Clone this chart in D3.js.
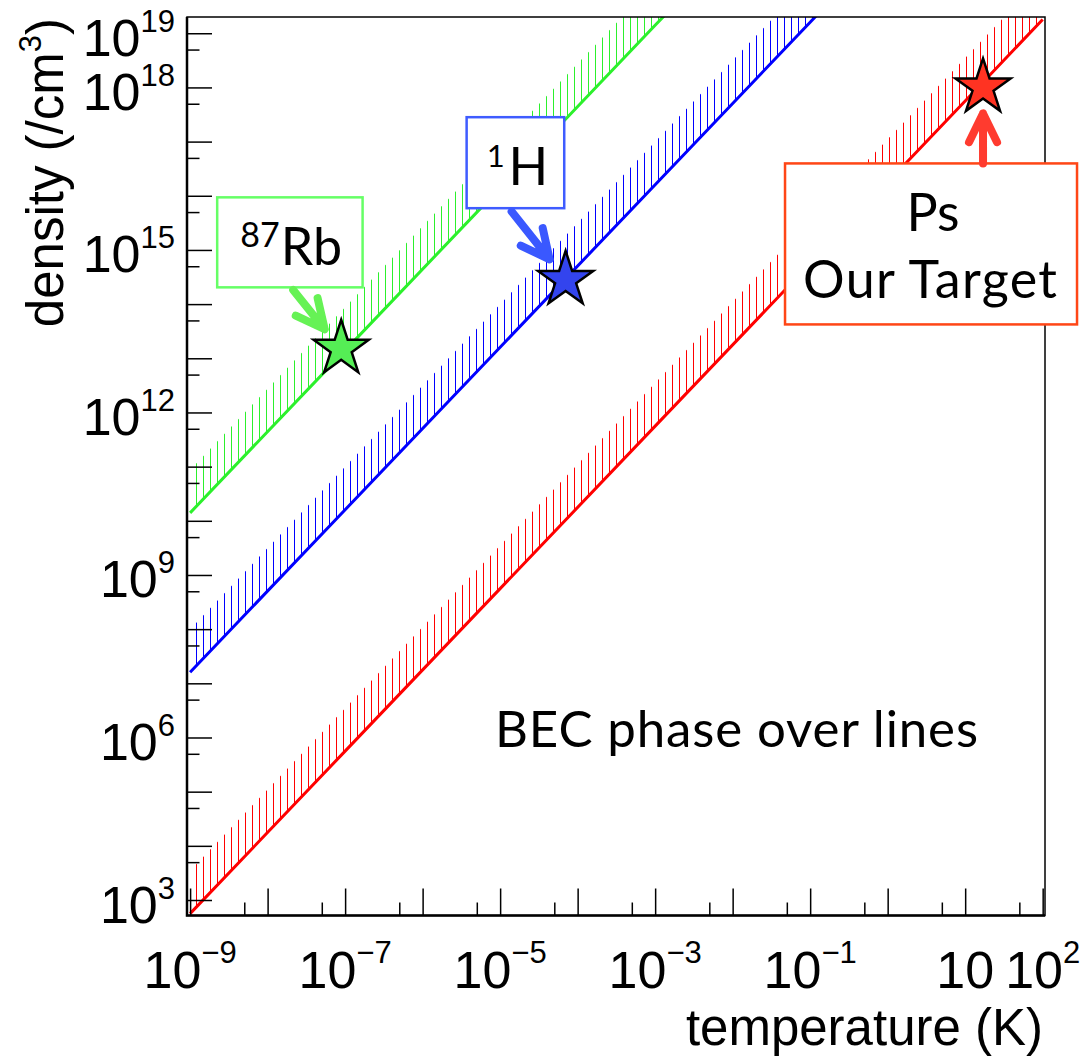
<!DOCTYPE html>
<html><head><meta charset="utf-8">
<script src="https://cdn.jsdelivr.net/npm/d3@7/dist/d3.min.js"></script>
<style>body{margin:0;background:#fff}</style>
</head><body>
<svg id="c" width="1087" height="1056"></svg>
<script>
// ---- data ----
const tempGrid = [1e-9, 1e-7, 1e-5, 1e-3, 1e-1, 1e1, 1e2];           // K
const densPs   = [5.6e2, 5.6e5, 5.6e8, 5.6e11, 5.6e14, 5.6e17, 1.8e19]; // /cm^3
const densH    = [1.6e7, 1.6e10, 1.6e13, 1.6e16, 1.6e19, 1.6e22, 5.1e23];
const densRb   = [1.4e10, 1.4e13, 1.4e16, 1.4e19, 1.4e22, 1.4e25, 4.4e26];
const seriesNames = ["Ps", "1H", "87Rb"];
const starTemps = [17, 7e-5, 8.9e-8];
const starDens  = [1.0e18, 2.8e14, 1.5e13];
const xTickValues = [1e-9, 1e-7, 1e-5, 1e-3, 1e-1, 1e1, 1e2];
const xTickExps   = ["\u22129", "\u22127", "\u22125", "\u22123", "\u22121", "", "2"];
const yTickValues = [1e3, 1e6, 1e9, 1e12, 1e15, 1e18, 1e19];
const yTickExps   = ["3", "6", "9", "12", "15", "18", "19"];
const xMajor = [1e-9,1e-8,1e-7,1e-6,1e-5,1e-4,1e-3,1e-2,1e-1,1e0,1e1,1e2];
const xMinor = [5e-9,5e-8,5e-7,5e-6,5e-5,5e-4,5e-3,5e-2,5e-1,5e0,5e1];
const yMajor = [1e3,1e4,1e5,1e6,1e7,1e8,1e9,1e10,1e11,1e12,1e13,1e14,1e15,1e16,1e17,1e18,1e19];
const yMinor = [5e3,5e4,5e5,5e6,5e7,5e8,5e9,5e10,5e11,5e12,5e13,5e14,5e15,5e16,5e17,5e18];

// ---- layout / style ----
const L = 187, R = 1045, T = 17, B = 915.5;
const lineColors = ["#ff0000", "#0000ff", "#2cf02c"];
const starFills  = ["#ff3322", "#3344ee", "#55ee55"];
const annColors  = ["#ff4616", "#3f5cff", "#66ff66"];
const arrowColors= ["#ff3b2f", "#3a58ff", "#66f255"];
const rootFont = "'Liberation Sans', Arial, Helvetica, sans-serif";
const annFont = "Lato, 'Open Sans', sans-serif";

const svg = d3.select("#c");
const x = d3.scaleLog().domain([10 ** -9.04, 10 ** 2.03]).range([L, R]);
const y = d3.scaleLog().domain([10 ** 2.714, 10 ** 19.30]).range([B, T]);

const defs = svg.append("defs");
defs.append("clipPath").attr("id", "frame")
  .append("rect").attr("x", L).attr("y", T).attr("width", R - L).attr("height", B - T);
lineColors.forEach((c, i) => {
  const p = defs.append("pattern").attr("id", "hatch" + i)
    .attr("patternUnits", "userSpaceOnUse").attr("width", 7).attr("height", 20)
    .attr("x", 0).attr("y", 0);
  p.append("rect").attr("x", 0).attr("y", 0).attr("width", 1).attr("height", 20)
    .attr("fill", c).attr("shape-rendering", "crispEdges");
});

// ---- BEC lines with hatched bands ----
const series = [densPs, densH, densRb];
const plot = svg.append("g").attr("clip-path", "url(#frame)");
const line = d3.line();
series.forEach((dens, i) => {
  const pts = tempGrid.map((t, k) => [x(t), y(dens[k])]);
  const top = pts.map(([a, b]) => [a, b - 43]).reverse();
  plot.append("path").attr("d", line(pts.concat(top)) + "Z")
    .attr("fill", `url(#hatch${i})`).attr("stroke", "none");
  plot.append("path").attr("d", line(pts))
    .attr("fill", "none").attr("stroke", lineColors[i]).attr("stroke-width", 3);
});

// ---- axes ----
const gx = svg.append("g").attr("transform", `translate(0,${B})`);
gx.append("g").call(d3.axisBottom(x).tickValues(xMajor).tickSize(-27).tickSizeOuter(0).tickFormat(""));
gx.append("g").call(d3.axisBottom(x).tickValues(xMinor).tickSize(-13).tickSizeOuter(0).tickFormat(""));
const gy = svg.append("g").attr("transform", `translate(${L},0)`);
gy.append("g").call(d3.axisLeft(y).tickValues(yMajor).tickSize(-25).tickSizeOuter(0).tickFormat(""));
gy.append("g").call(d3.axisLeft(y).tickValues(yMinor).tickSize(-12.5).tickSizeOuter(0).tickFormat(""));
svg.selectAll(".domain").remove();
svg.selectAll(".tick line").attr("stroke", "#000").attr("stroke-width", 1.5);

// frame
svg.append("rect").attr("x", L).attr("y", T).attr("width", R - L).attr("height", B - T)
  .attr("fill", "none").attr("stroke", "#000").attr("stroke-width", 1.5);
svg.append("path").attr("d", `M${L},${T}V${B}H${R}`).attr("fill", "none")
  .attr("stroke", "#000").attr("stroke-width", 2.5);

// tick labels
xTickValues.forEach((v, i) => {
  const t = svg.append("text").attr("x", x(v)).attr("y", 987.5)
    .attr("text-anchor", "middle").attr("font-family", rootFont)
    .attr("font-size", 52).attr("fill", "#000");
  t.append("tspan").text("10");
  if (xTickExps[i]) t.append("tspan").attr("font-size", 31).attr("dy", -25).text(xTickExps[i]);
});
yTickValues.forEach((v, i) => {
  const t = svg.append("text").attr("x", 175).attr("y", y(v) + 22.5)
    .attr("text-anchor", "end").attr("font-family", rootFont)
    .attr("font-size", 52).attr("fill", "#000");
  t.append("tspan").text("10");
  t.append("tspan").attr("font-size", 31).attr("dy", -24).text(yTickExps[i]);
});

// axis titles
svg.append("text").attr("x", 1043).attr("y", 1045).attr("text-anchor", "end")
  .attr("font-family", rootFont).attr("font-size", 51).attr("fill", "#000")
  .text("temperature (K)");
const yt = svg.append("g").attr("transform", `translate(63,18) rotate(-90)`)
  .append("text").attr("text-anchor", "end").attr("font-family", rootFont)
  .attr("font-size", 51).attr("fill", "#000");
yt.append("tspan").text("density (/cm");
yt.append("tspan").attr("font-size", 31).attr("dy", -22).text("3");
yt.append("tspan").attr("dy", 22).text(")");

// BEC label
svg.append("text").attr("x", 495).attr("y", 746.5)
  .attr("font-family", annFont).attr("font-size", 51).attr("fill", "#000")
  .attr("textLength", 483).attr("lengthAdjust", "spacing")
  .text("BEC phase over lines");

// ---- annotations (offsets relative to the star of each series) ----
const annBoxes = [
  {dx: -198, dy: 76, w: 292, h: 161},
  {dx: -99, dy: -162.7, w: 97.6, h: 91},
  {dx: -124, dy: -151.4, w: 145.4, h: 90}
];
const annArrows = [
  {ax: 0, ay: 76, bx: 0, by: 26},
  {ax: -54, ay: -68.3, bx: -16, by: -20.5},
  {ax: -48, ay: -58.7, bx: -16.5, by: -19.5}
];
const stars = starTemps.map((t, i) => [x(t), y(starDens[i])]);

annBoxes.forEach((b, i) => {
  svg.append("rect").attr("x", stars[i][0] + b.dx).attr("y", stars[i][1] + b.dy)
    .attr("width", b.w).attr("height", b.h).attr("fill", "#fff")
    .attr("stroke", annColors[i]).attr("stroke-width", 2.5);
});

annArrows.forEach((a, i) => {
  const [sx, sy] = stars[i];
  const ax = sx + a.ax, ay = sy + a.ay, bx = sx + a.bx, by = sy + a.by;
  const ang = Math.atan2(by - ay, bx - ax) + Math.PI;
  const hl = 32, ha = 26 * Math.PI / 180;
  const w1 = [bx + hl * Math.cos(ang - ha), by + hl * Math.sin(ang - ha)];
  const w2 = [bx + hl * Math.cos(ang + ha), by + hl * Math.sin(ang + ha)];
  svg.append("path")
    .attr("d", `M${ax},${ay}L${bx},${by}M${w1[0]},${w1[1]}L${bx},${by}L${w2[0]},${w2[1]}`)
    .attr("fill", "none").attr("stroke", arrowColors[i]).attr("stroke-width", 8)
    .attr("stroke-linecap", "round").attr("stroke-linejoin", "round");
});

const starPath = d3.symbol(d3.symbolStar, 944)();
stars.forEach((s, i) => {
  svg.append("path").attr("d", starPath).attr("transform", `translate(${s[0]},${s[1]})`)
    .attr("fill", starFills[i]).attr("stroke", "#000").attr("stroke-width", 2.5)
    .attr("stroke-linejoin", "miter");
});

// annotation texts
const [ps, h1, rb] = stars;
svg.append("text").attr("x", ps[0] - 50).attr("y", ps[1] + 144).attr("text-anchor", "middle")
  .attr("font-family", annFont).attr("font-size", 52).attr("fill", "#000").text("Ps");
svg.append("text").attr("x", ps[0] - 180).attr("y", ps[1] + 211)
  .attr("font-family", annFont).attr("font-size", 52).attr("fill", "#000")
  .attr("textLength", 254).attr("lengthAdjust", "spacing").text("Our Target");

const th = svg.append("text").attr("x", h1[0] - 79).attr("y", h1[1] - 95)
  .attr("font-family", annFont).attr("font-size", 52).attr("fill", "#000");
th.append("tspan").attr("font-size", 31).attr("dy", -18.3).text("1");
th.append("tspan").attr("dy", 18.3).attr("dx", 4).text("H");

const tr = svg.append("text").attr("x", rb[0] - 101).attr("y", rb[1] - 83.7)
  .attr("font-family", annFont).attr("font-size", 52).attr("fill", "#000");
tr.append("tspan").attr("font-size", 34).attr("dy", -18.3).text("87");
tr.append("tspan").attr("dy", 18.3).attr("dx", 1).text("Rb");
</script>
</body></html>
